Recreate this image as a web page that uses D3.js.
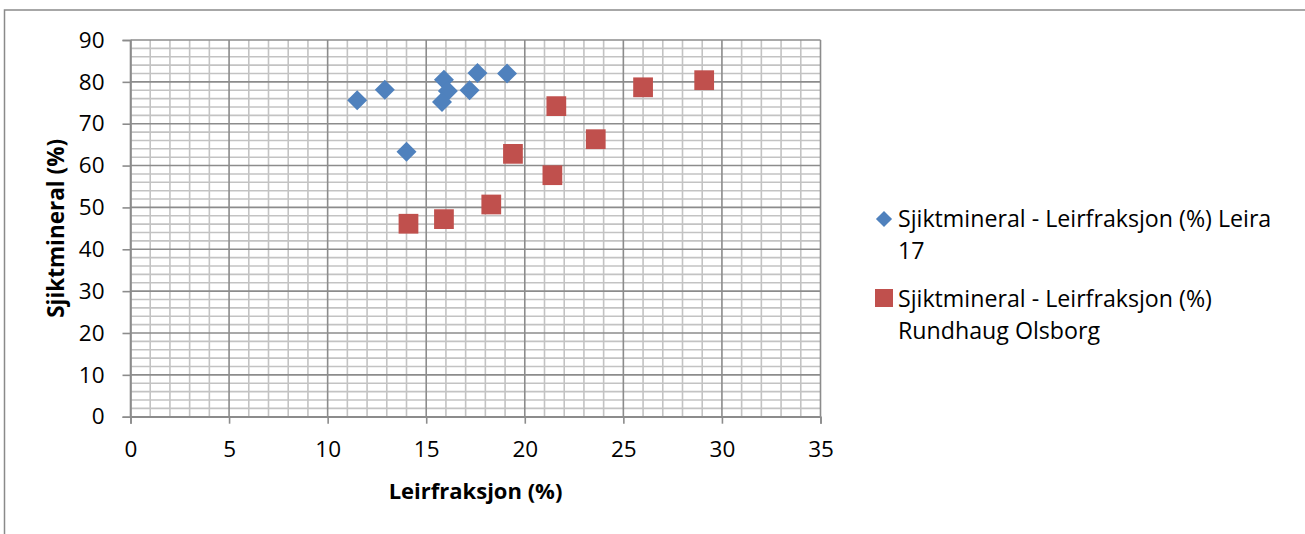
<!DOCTYPE html>
<html>
<head>
<meta charset="utf-8">
<script src="https://cdn.jsdelivr.net/npm/d3@7"></script>
<style>
  html, body { margin: 0; padding: 0; background: #fff; }
  svg { display: block; }
  text { font-family: "Open Sans", "Noto Sans", sans-serif; fill: #000; }
</style>
</head>
<body>
<svg id="chart" width="1305" height="534"></svg>
<script>
// ---- data ----
const seriesNames = [
  "Sjiktmineral - Leirfraksjon (%) Leira 17",
  "Sjiktmineral - Leirfraksjon (%) Rundhaug Olsborg"
];
const leiraX = [11.5, 12.9, 14.0, 15.9, 16.1, 15.8, 17.6, 17.2, 19.1];
const leiraY = [75.6, 78.1, 63.3, 80.5, 77.8, 75.2, 82.1, 78.0, 82.0];
const rundX = [14.1, 15.9, 18.3, 19.4, 21.4, 21.6, 23.6, 26.0, 29.1];
const rundY = [46.1, 47.2, 50.7, 62.8, 57.7, 74.2, 66.3, 78.7, 80.4];
const xTicks = [0, 5, 10, 15, 20, 25, 30, 35];
const yTicks = [0, 10, 20, 30, 40, 50, 60, 70, 80, 90];
const xTitle = "Leirfraksjon (%)";
const yTitle = "Sjiktmineral (%)";

const svg = d3.select("#chart");
const W = 1305, H = 534;
const m = { left: 130.5, right: 820.5, top: 40, bottom: 416.7 };
const FS = "22.5px";

// outer border
svg.append("rect").attr("x", 4.5).attr("y", 10).attr("width", W + 10).attr("height", H + 20)
  .attr("fill", "#fff").attr("stroke", "#8a8a8a").attr("stroke-width", 1.5);

const x = d3.scaleLinear().domain([0, 35]).range([m.left, m.right]);
const y = d3.scaleLinear().domain([0, 90]).range([m.bottom, m.top]);

const g = svg.append("g");
// minor gridlines
const xMinor = d3.range(0, 36, 1).filter(v => v % 5 !== 0);
const yMinor = d3.range(0, 91, 2).filter(v => v % 10 !== 0);
g.selectAll(".xminor").data(xMinor).join("line")
  .attr("x1", d => x(d)).attr("x2", d => x(d)).attr("y1", m.top).attr("y2", m.bottom)
  .attr("stroke", "#c3c3c3").attr("stroke-width", 1.6);
g.selectAll(".yminor").data(yMinor).join("line")
  .attr("x1", m.left).attr("x2", m.right).attr("y1", d => y(d)).attr("y2", d => y(d))
  .attr("stroke", "#c3c3c3").attr("stroke-width", 1.6);
// major gridlines
g.selectAll(".xmajor").data(xTicks).join("line")
  .attr("x1", d => x(d)).attr("x2", d => x(d)).attr("y1", m.top).attr("y2", m.bottom)
  .attr("stroke", "#8c8c8c").attr("stroke-width", 1.6);
g.selectAll(".ymajor").data(yTicks).join("line")
  .attr("x1", m.left).attr("x2", m.right).attr("y1", d => y(d)).attr("y2", d => y(d))
  .attr("stroke", "#8c8c8c").attr("stroke-width", 1.6);

// axes
const xAxis = svg.append("g").attr("transform", `translate(0,${m.bottom})`)
  .call(d3.axisBottom(x).tickValues(xTicks).tickSize(7).tickPadding(17).tickFormat(d3.format("d")));
const yAxis = svg.append("g").attr("transform", `translate(${m.left},0)`)
  .call(d3.axisLeft(y).tickValues(yTicks).tickSize(8).tickPadding(18).tickFormat(d3.format("d")));
[xAxis, yAxis].forEach(a => {
  a.select(".domain").attr("stroke", "#8c8c8c").attr("stroke-width", 1.6);
  a.selectAll(".tick line").attr("stroke", "#8c8c8c").attr("stroke-width", 1.6);
  a.selectAll(".tick text").style("font-family", '"Open Sans", sans-serif').style("font-size", FS).attr("fill", "#000");
});

// points
const blue = "#4F81BD", red = "#C0504D";
svg.selectAll(".leira").data(leiraX.map((v, i) => [v, leiraY[i]])).join("path")
  .attr("d", d3.symbol().type(d3.symbolSquare).size(200))
  .attr("transform", d => `translate(${x(d[0])},${y(d[1])}) rotate(45)`)
  .attr("fill", blue);
svg.selectAll(".rund").data(rundX.map((v, i) => [v, rundY[i]])).join("path")
  .attr("d", d3.symbol().type(d3.symbolSquare).size(390))
  .attr("transform", d => `translate(${x(d[0])},${y(d[1])})`)
  .attr("fill", red);

// axis titles
svg.append("text").attr("x", (m.left + m.right) / 2).attr("y", 499)
  .attr("text-anchor", "middle").style("font-weight", "bold").style("font-size", "22px").text(xTitle);
svg.append("text").attr("transform", `translate(64,${(m.top + m.bottom) / 2}) rotate(-90)`)
  .attr("text-anchor", "middle").style("font-weight", "bold").style("font-size", "22.5px").text(yTitle);

// legend
const LFS = "23.2px";
const leg = svg.append("g");
leg.append("path").attr("d", d3.symbol().type(d3.symbolSquare).size(130))
  .attr("transform", "translate(884,219) rotate(45)").attr("fill", blue);
leg.append("rect").attr("x", 875).attr("y", 289).attr("width", 18).attr("height", 18).attr("fill", red);
const t1 = leg.append("text").attr("x", 898).attr("y", 227).style("font-size", LFS);
t1.append("tspan").attr("x", 898).text("Sjiktmineral - Leirfraksjon (%) Leira");
t1.append("tspan").attr("x", 898).attr("dy", 31.5).text("17");
const t2 = leg.append("text").attr("x", 898).attr("y", 307).style("font-size", LFS);
t2.append("tspan").attr("x", 898).text("Sjiktmineral - Leirfraksjon (%)");
t2.append("tspan").attr("x", 898).attr("dy", 31.5).text("Rundhaug Olsborg");
</script>
</body>
</html>
